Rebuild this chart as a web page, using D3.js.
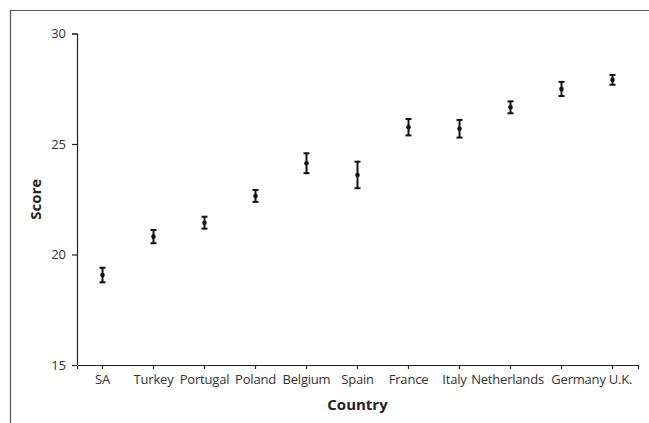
<!DOCTYPE html>
<html>
  <head>
    <meta charset="utf-8">
    <title>Score by country</title>
    <script src="https://d3js.org/d3.v7.min.js"></script>
    <style>
      body { margin: 0; background: #fff; }
      text { font-family: "Open Sans", "Liberation Sans", sans-serif; }
    </style>
  </head>
  <body>
    <script>
        var countries = ["SA", "Turkey", "Portugal", "Poland", "Belgium", "Spain",
                         "France", "Italy", "Netherlands", "Germany", "U.K."];
        var scores = [19.07, 20.81, 21.44, 22.65, 24.13, 23.60, 25.76, 25.69, 26.66, 27.49, 27.90];
        var errors = [0.33, 0.30, 0.27, 0.27, 0.45, 0.60, 0.37, 0.40, 0.27, 0.32, 0.22];
        var yTicks = [15, 20, 25, 30];

        var width = 649;
        var height = 423;
        var svg = d3.select("body").append("svg")
            .attr("width", width)
            .attr("height", height)
        ;

        // frame (cropped figure border)
        svg.append("path")
            .attr("d", "M10.5," + height + "V10.5H" + width)
            .attr("fill", "none")
            .attr("stroke", "#555")
            .attr("stroke-width", 1.2)
        ;

        var m = {left: 77, right: 638, top: 33.5, bottom: 365};

        var xScale = d3.scaleBand()
            .domain(countries)
            .range([m.left, m.right])
        ;
        var yScale = d3.scaleLinear()
            .domain([15, 30])
            .range([m.bottom, m.top])
        ;

        var axisX = d3.axisBottom(xScale).tickSize(4).tickPadding(6);
        var gx = svg.append("g")
            .attr("transform", "translate(0," + m.bottom + ")")
            .call(axisX)
        ;
        var axisY = d3.axisLeft(yScale).tickValues(yTicks).tickSize(5).tickPadding(6);
        var gy = svg.append("g")
            .attr("transform", "translate(" + m.left + ",0)")
            .call(axisY)
        ;
        [gx, gy].forEach((g)=>{
            g.select(".domain").attr("stroke", "#222").attr("stroke-width", 1.2);
            g.selectAll(".tick line").attr("stroke", "#222").attr("stroke-width", 1.2);
            g.selectAll(".tick text")
                .attr("fill", "#333")
                .style("font-size", "13px")
                .style("font-family", "'Open Sans', sans-serif");
        });
        // long labels at the right are nudged apart, as in the original
        var nudge = {"Italy": -5, "Netherlands": -3, "Germany": 17, "U.K.": 8};
        gx.selectAll(".tick text")
            .attr("dx", (d)=>{ return nudge[d] || 0; })
            .attr("letter-spacing", "-0.2px");

        var data = countries.map((c, i)=>{
            return {c: c, v: scores[i], e: errors[i]};
        });
        var cx = (d)=>{ return xScale(d.c) + xScale.bandwidth() / 2; };

        var bars = svg.append("g").attr("stroke", "#111").attr("stroke-width", 2);
        bars.selectAll("line.err")
            .data(data)
            .enter()
            .append("line")
            .classed("err", true)
            .attr("x1", cx).attr("x2", cx)
            .attr("y1", (d)=>{ return yScale(d.v + d.e); })
            .attr("y2", (d)=>{ return yScale(d.v - d.e); })
        ;
        bars.selectAll("line.capTop")
            .data(data)
            .enter()
            .append("line")
            .classed("capTop", true)
            .attr("x1", (d)=>{ return cx(d) - 3; })
            .attr("x2", (d)=>{ return cx(d) + 3; })
            .attr("y1", (d)=>{ return yScale(d.v + d.e); })
            .attr("y2", (d)=>{ return yScale(d.v + d.e); })
        ;
        bars.selectAll("line.capBot")
            .data(data)
            .enter()
            .append("line")
            .classed("capBot", true)
            .attr("x1", (d)=>{ return cx(d) - 3; })
            .attr("x2", (d)=>{ return cx(d) + 3; })
            .attr("y1", (d)=>{ return yScale(d.v - d.e); })
            .attr("y2", (d)=>{ return yScale(d.v - d.e); })
        ;
        svg.selectAll("circle.dot")
            .data(data)
            .enter()
            .append("circle")
            .classed("dot", true)
            .attr("cx", cx)
            .attr("cy", (d)=>{ return yScale(d.v); })
            .attr("r", 2.3)
            .attr("fill", "#111")
        ;

        svg.append("text")
            .attr("x", (m.left + m.right) / 2)
            .attr("y", 410)
            .attr("text-anchor", "middle")
            .attr("font-weight", "bold")
            .attr("font-size", "15px")
            .attr("fill", "#222")
            .text("Country")
        ;
        svg.append("text")
            .attr("transform", "translate(41," + ((m.top + m.bottom) / 2) + ") rotate(-90)")
            .attr("text-anchor", "middle")
            .attr("font-weight", "bold")
            .attr("font-size", "15px")
            .attr("fill", "#222")
            .text("Score")
        ;
    </script>
  </body>
</html>
